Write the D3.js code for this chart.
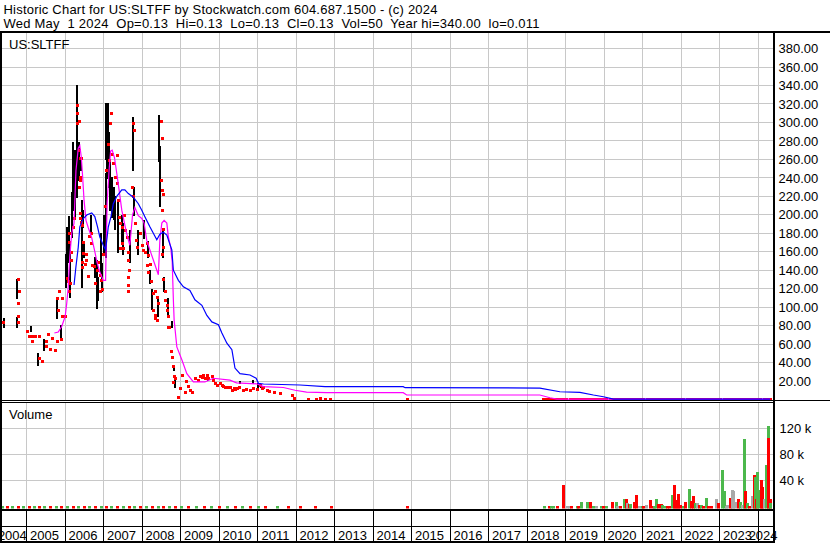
<!DOCTYPE html>
<html>
<head>
<meta charset="utf-8">
<script src="https://cdn.jsdelivr.net/npm/d3@7"></script>
<style>
  body { margin: 0; background: #fff; }
  text { font-family: "Liberation Sans", Arial, sans-serif; font-size: 13px; fill: #000; }
</style>
</head>
<body>
<svg id="chart" width="830" height="543"></svg>
<script>
const titleLines = [
  "Historic Chart for US:SLTFF by Stockwatch.com 604.687.1500 - (c) 2024",
  "Wed May  1 2024  Op=0.13  Hi=0.13  Lo=0.13  Cl=0.13  Vol=50  Year hi=340.00  lo=0.011"
];
const symbolLabel = "US:SLTFF";
const volumeLabel = "Volume";
const years = [2004, 2005, 2006, 2007, 2008, 2009, 2010, 2011, 2012, 2013, 2014,
  2015, 2016, 2017, 2018, 2019, 2020, 2021, 2022, 2023, 2024];
const priceTicks = [20, 40, 60, 80, 100, 120, 140, 160, 180, 200, 220, 240, 260, 280, 300, 320, 340, 360, 380];
const volumeTicks = [40, 80, 120];

// [decimal year, high, low]
const hiLoBars = [
  [2004.41, 88, 79], [2004.76, 130, 110], [2004.76, 89, 79], [2005.10, 80, 74],
  [2005.30, 50, 37], [2005.44, 66, 55], [2005.46, 64, 54], [2005.78, 110, 88],
  [2005.88, 81, 64], [2006.01, 158, 122], [2006.05, 187, 131], [2006.09, 199, 149],
  [2006.13, 169, 111], [2006.18, 225, 176], [2006.21, 279, 205], [2006.25, 270, 197],
  [2006.30, 340, 219], [2006.33, 279, 248], [2006.37, 279, 238], [2006.40, 262, 248],
  [2006.43, 216, 122], [2006.46, 205, 187], [2006.49, 169, 154], [2006.67, 200, 180],
  [2006.77, 154, 133], [2006.82, 151, 99], [2006.84, 133, 108], [2006.94, 180, 137],
  [2006.96, 148, 118], [2007.01, 200, 158], [2007.05, 245, 154], [2007.07, 321, 260],
  [2007.09, 300, 240], [2007.11, 321, 259], [2007.13, 290, 230], [2007.16, 259, 205],
  [2007.22, 241, 198], [2007.26, 230, 195], [2007.30, 220, 185], [2007.37, 215, 160],
  [2007.47, 200, 170], [2007.50, 191, 158], [2007.68, 183, 149], [2007.76, 306, 248],
  [2007.78, 230, 200], [2007.89, 183, 158], [2008.06, 194, 175], [2008.14, 172, 154],
  [2008.20, 140, 126], [2008.26, 120, 98], [2008.40, 110, 90], [2008.44, 308, 258],
  [2008.45, 275, 210], [2008.46, 262, 250], [2008.54, 183, 154], [2008.57, 133, 118],
  [2008.67, 110, 90], [2008.77, 85, 78], [2008.82, 37, 32], [2008.85, 25, 14],
  [2009.72, 25, 21], [2010.54, 20, 18], [2010.87, 21, 18], [2011.02, 18, 14], [2011.08, 17, 14]
];

// [decimal year, close]
const closeDots = [
  [2004.38, 84], [2004.78, 130], [2004.80, 118], [2004.78, 105], [2004.78, 90], [2004.78, 84],
  [2005.02, 74], [2005.05, 69], [2005.15, 69], [2005.21, 69], [2005.32, 69], [2005.15, 63],
  [2005.33, 45], [2005.41, 42], [2005.50, 63], [2005.50, 58], [2005.61, 55], [2005.73, 54],
  [2005.55, 71], [2005.66, 67], [2005.78, 63], [2005.83, 118], [2005.78, 110], [2005.82, 97],
  [2005.92, 110], [2005.91, 90], [2006.00, 90], [2005.89, 65], [2006.05, 132], [2006.08, 128],
  [2006.12, 126], [2006.09, 118], [2006.09, 170], [2006.11, 180], [2006.16, 160], [2006.14, 151],
  [2006.21, 187], [2006.23, 196], [2006.32, 319], [2006.32, 310], [2006.31, 299], [2006.36, 302],
  [2006.36, 270], [2006.38, 261], [2006.41, 261], [2006.38, 241], [2006.38, 238], [2006.37, 230],
  [2006.38, 202], [2006.38, 196], [2006.41, 192], [2006.44, 189], [2006.47, 170], [2006.45, 159],
  [2006.44, 149], [2006.54, 151], [2006.51, 147], [2006.44, 144], [2006.59, 134], [2006.63, 177],
  [2006.54, 158], [2006.66, 180], [2006.68, 169], [2006.70, 146], [2006.74, 145], [2006.85, 149],
  [2006.82, 140], [2006.90, 135], [2006.93, 129], [2006.96, 120], [2006.78, 126], [2006.90, 118],
  [2006.99, 158], [2007.03, 209], [2007.05, 248], [2007.12, 277], [2007.16, 299], [2007.19, 310],
  [2007.14, 259], [2007.21, 266], [2007.25, 256], [2007.34, 265], [2007.29, 241], [2007.34, 234],
  [2007.38, 216], [2007.40, 198], [2007.42, 191], [2007.48, 187], [2007.54, 200], [2007.55, 183],
  [2007.60, 176], [2007.47, 169], [2007.51, 164], [2007.42, 164], [2007.64, 160], [2007.62, 151],
  [2007.67, 140], [2007.62, 133], [2007.64, 124], [2007.64, 118], [2007.77, 299], [2007.79, 292],
  [2007.73, 230], [2007.77, 220], [2007.81, 191], [2007.83, 173], [2007.86, 165], [2007.94, 180],
  [2007.99, 167], [2008.03, 162], [2008.12, 169], [2008.07, 160], [2008.16, 156], [2008.12, 146],
  [2008.16, 138], [2008.23, 128], [2008.33, 118], [2008.38, 111], [2008.40, 104], [2008.29, 97],
  [2008.33, 88], [2008.49, 302], [2008.51, 283], [2008.49, 238], [2008.51, 227], [2008.55, 222],
  [2008.52, 205], [2008.55, 185], [2008.55, 165], [2008.52, 158], [2008.55, 131], [2008.59, 118],
  [2008.59, 108], [2008.64, 97], [2008.68, 90], [2008.70, 79], [2008.20, 147], [2008.29, 115],
  [2008.33, 91], [2008.38, 86], [2008.64, 102], [2008.68, 79], [2008.74, 52], [2008.77, 46],
  [2008.79, 36], [2008.82, 25], [2008.85, 23], [2008.81, 19], [2009.03, 27], [2008.98, 12],
  [2008.94, 3], [2009.11, 8], [2009.15, 20], [2009.20, 15], [2009.24, 10], [2009.29, 8],
  [2009.37, 23], [2009.45, 21], [2009.50, 25], [2009.55, 24], [2009.59, 27], [2009.63, 23],
  [2009.68, 26], [2009.72, 23], [2009.81, 25], [2009.85, 21], [2009.90, 18], [2009.94, 16],
  [2010.02, 18], [2010.07, 16], [2010.10, 15], [2010.16, 14], [2010.20, 13], [2010.28, 14],
  [2010.33, 10], [2010.38, 12], [2010.41, 11], [2010.47, 12], [2010.52, 13], [2010.63, 10],
  [2010.70, 11], [2010.80, 10], [2010.88, 12], [2010.97, 11], [2011.06, 16], [2011.10, 12],
  [2011.15, 14], [2011.23, 10], [2011.30, 9], [2011.42, 8], [2011.58, 7], [2011.88, 5],
  [2011.94, 2], [2012.32, 1], [2012.52, 1], [2012.62, 2], [2012.75, 0.3], [2012.88, 0.3],
  [2014.87, 0.3], [2018.40, 0.2], [2018.48, 0.2], [2018.55, 0.2], [2018.62, 0.1], [2018.70, 0.1],
  [2018.78, 0.1], [2018.86, 0.1], [2018.94, 0.1], [2019.02, 0.1], [2019.10, 0.1], [2019.18, 0.1],
  [2019.26, 0.1], [2019.34, 0.1], [2019.42, 0.1], [2019.50, 0.1], [2019.58, 0.1], [2019.66, 0.1],
  [2019.74, 0.1], [2019.82, 0.1], [2019.90, 0.1], [2019.98, 0.1], [2020.06, 0.1], [2020.14, 0.1],
  [2020.22, 0.1], [2020.30, 0.1], [2020.38, 0.1], [2020.46, 0.1], [2020.54, 0.1], [2020.62, 0.1],
  [2020.70, 0.1], [2020.78, 0.1], [2020.86, 0.1], [2020.94, 0.1], [2021.02, 0.1], [2021.10, 0.1],
  [2021.18, 0.1], [2021.26, 0.1], [2021.34, 0.1], [2021.42, 0.1], [2021.50, 0.1], [2021.58, 0.1],
  [2021.66, 0.1], [2021.74, 0.1], [2021.82, 0.1], [2021.90, 0.1], [2021.98, 0.1], [2022.06, 0.1],
  [2022.14, 0.1], [2022.22, 0.1], [2022.30, 0.1], [2022.38, 0.1], [2022.46, 0.1], [2022.54, 0.1],
  [2022.62, 0.1], [2022.70, 0.1], [2022.78, 0.1], [2022.86, 0.1], [2022.94, 0.1], [2023.02, 0.1],
  [2023.10, 0.1], [2023.18, 0.1], [2023.26, 0.1], [2023.34, 0.1], [2023.42, 0.1], [2023.50, 0.1],
  [2023.58, 0.1], [2023.66, 0.1], [2023.74, 0.1], [2023.82, 0.1], [2023.90, 0.1], [2023.98, 0.1],
  [2024.06, 0.1], [2024.14, 0.1], [2024.22, 0.1], [2024.30, 0.1]
];

// short moving average (magenta)
const shortAvg = [
  [2005.72, 72], [2005.82, 73], [2005.91, 79], [2006.00, 90], [2006.04, 104], [2006.08, 122],
  [2006.12, 155], [2006.17, 180], [2006.23, 191], [2006.28, 248], [2006.34, 272], [2006.38, 275],
  [2006.42, 262], [2006.45, 243], [2006.49, 216], [2006.54, 194], [2006.60, 186], [2006.69, 175],
  [2006.77, 160], [2006.83, 148], [2006.90, 138], [2006.99, 129], [2007.05, 129], [2007.06, 155],
  [2007.09, 213], [2007.14, 248], [2007.18, 269], [2007.22, 270], [2007.28, 262], [2007.34, 245],
  [2007.41, 224], [2007.47, 205], [2007.54, 191], [2007.59, 181], [2007.64, 173], [2007.68, 167],
  [2007.75, 200], [2007.81, 208], [2007.90, 199], [2007.99, 196], [2008.05, 191], [2008.12, 172],
  [2008.20, 162], [2008.29, 151], [2008.38, 140], [2008.42, 135], [2008.46, 173], [2008.51, 191],
  [2008.57, 194], [2008.64, 191], [2008.68, 176], [2008.74, 165], [2008.78, 149], [2008.81, 108],
  [2008.83, 86], [2008.90, 57], [2009.03, 43], [2009.16, 28], [2009.33, 19], [2009.63, 19],
  [2009.85, 23], [2010.28, 21], [2010.45, 18], [2010.97, 17], [2011.15, 14], [2011.67, 13],
  [2011.97, 10], [2012.27, 8], [2012.79, 7.4], [2014.78, 7.4], [2014.87, 4.9], [2018.33, 4.9],
  [2018.59, 1.9], [2018.77, 0.5], [2024.31, 0.3]
];

// long moving average (blue)
const longAvg = [
  [2006.23, 124], [2006.28, 144], [2006.34, 165], [2006.38, 187], [2006.47, 196], [2006.57, 200],
  [2006.69, 202], [2006.77, 198], [2006.84, 187], [2006.90, 176], [2006.99, 167], [2007.05, 162],
  [2007.09, 176], [2007.12, 187], [2007.19, 198], [2007.25, 212], [2007.34, 220], [2007.47, 227],
  [2007.55, 227], [2007.64, 223], [2007.77, 219], [2007.90, 212], [2007.99, 205], [2008.07, 198],
  [2008.20, 187], [2008.29, 180], [2008.38, 173], [2008.46, 179], [2008.55, 181], [2008.64, 178],
  [2008.72, 168], [2008.77, 162], [2008.81, 140], [2008.94, 129], [2009.07, 122], [2009.24, 118],
  [2009.37, 108], [2009.55, 102], [2009.68, 91], [2009.81, 84], [2009.98, 81], [2010.07, 72],
  [2010.20, 61], [2010.33, 54], [2010.41, 34], [2010.54, 28], [2010.80, 26.5], [2010.96, 23],
  [2011.02, 17.5], [2011.15, 16.8], [2012.10, 15.7], [2012.75, 13.9], [2014.78, 13.9],
  [2014.83, 12.8], [2018.33, 12.4], [2018.85, 8.4], [2019.37, 7.8], [2019.72, 4.9],
  [2019.98, 3], [2020.24, 0.5], [2024.31, 0.5]
];

// [decimal year, volume in thousands, 'g' up / 'r' down / 'n' unchanged]
const volumeBars = [
  [2004.35, 0.4, 'g'], [2004.50, 0.6, 'r'], [2004.62, 0.3, 'g'], [2004.78, 0.8, 'r'], [2004.90, 0.5, 'g'],
  [2005.05, 0.6, 'r'], [2005.20, 0.4, 'g'], [2005.32, 0.7, 'r'], [2005.45, 0.5, 'g'], [2005.60, 0.6, 'r'],
  [2005.75, 0.5, 'g'], [2005.90, 0.8, 'r'], [2006.05, 0.6, 'g'], [2006.20, 0.9, 'r'], [2006.33, 0.7, 'g'],
  [2006.48, 0.6, 'r'], [2006.62, 0.8, 'g'], [2006.78, 0.5, 'r'], [2006.92, 0.7, 'g'], [2007.05, 0.9, 'r'],
  [2007.20, 0.6, 'g'], [2007.35, 0.7, 'r'], [2007.50, 0.5, 'g'], [2007.65, 0.8, 'r'], [2007.80, 0.6, 'g'],
  [2007.95, 0.7, 'r'], [2008.10, 0.6, 'g'], [2008.25, 0.8, 'r'], [2008.40, 0.5, 'g'], [2008.55, 0.9, 'r'],
  [2008.70, 0.6, 'g'], [2008.85, 0.5, 'r'], [2009.00, 0.4, 'g'], [2009.20, 0.5, 'r'], [2009.40, 0.4, 'g'],
  [2009.60, 0.6, 'r'], [2009.80, 0.4, 'g'], [2010.00, 0.5, 'r'], [2010.20, 0.4, 'g'], [2010.40, 0.5, 'r'],
  [2010.60, 0.4, 'g'], [2010.80, 0.5, 'r'], [2011.00, 0.6, 'g'], [2011.20, 0.4, 'r'], [2011.50, 0.3, 'g'],
  [2011.80, 0.4, 'r'], [2012.10, 0.3, 'r'], [2012.50, 0.4, 'r'], [2012.90, 0.3, 'r'], [2014.87, 0.3, 'r'],
  [2018.44, 0.5, 'g'], [2018.57, 0.3, 'r'], [2018.62, 1, 'g'], [2018.66, 1, 'g'], [2018.77, 0.3, 'r'],
  [2018.93, 33, 'r'], [2019.03, 0.3, 'n'], [2019.08, 0.3, 'n'], [2019.14, 1, 'r'], [2019.29, 1, 'g'],
  [2019.33, 0.5, 'r'], [2019.41, 6.6, 'g'], [2019.55, 6.6, 'g'], [2019.63, 6.6, 'r'], [2019.71, 0.8, 'g'],
  [2019.79, 0.3, 'n'], [2019.92, 0.8, 'g'], [2019.97, 0.8, 'r'], [2020.04, 0.8, 'g'], [2020.20, 6.6, 'r'],
  [2020.30, 6.6, 'g'], [2020.33, 0.8, 'n'], [2020.41, 0.8, 'r'], [2020.52, 11.2, 'g'], [2020.56, 11.2, 'r'],
  [2020.59, 6, 'n'], [2020.65, 4, 'r'], [2020.67, 4.5, 'g'], [2020.78, 6.6, 'r'], [2020.83, 17.4, 'r'],
  [2020.91, 0.3, 'n'], [2020.98, 1, 'g'], [2021.02, 0.8, 'r'], [2021.08, 3, 'n'], [2021.19, 9.7, 'r'],
  [2021.26, 1.2, 'r'], [2021.30, 1.5, 'g'], [2021.35, 12.3, 'g'], [2021.40, 4.5, 'r'], [2021.48, 4, 'r'],
  [2021.51, 3, 'g'], [2021.58, 1.5, 'g'], [2021.64, 1.5, 'r'], [2021.69, 1.5, 'r'], [2021.77, 17.4, 'g'],
  [2021.81, 33, 'r'], [2021.84, 10, 'r'], [2021.88, 10, 'r'], [2021.91, 19, 'r'], [2021.98, 3, 'r'],
  [2022.04, 1, 'g'], [2022.09, 6.6, 'r'], [2022.20, 26.6, 'g'], [2022.26, 8, 'r'], [2022.30, 16, 'r'],
  [2022.36, 5, 'g'], [2022.41, 6, 'n'], [2022.46, 2, 'r'], [2022.52, 2.5, 'g'], [2022.57, 1, 'r'],
  [2022.65, 12.8, 'g'], [2022.70, 0.3, 'r'], [2022.78, 0.3, 'r'], [2022.90, 11.3, 'n'], [2022.96, 6, 'r'],
  [2023.07, 56, 'g'], [2023.12, 24, 'g'], [2023.16, 0.8, 'n'], [2023.20, 2, 'n'], [2023.26, 13.5, 'r'],
  [2023.32, 25.4, 'n'], [2023.35, 24, 'n'], [2023.39, 7, 'n'], [2023.48, 12.3, 'r'], [2023.53, 6.6, 'g'],
  [2023.58, 2, 'n'], [2023.63, 103.5, 'g'], [2023.67, 24, 'r'], [2023.71, 5, 'g'], [2023.75, 0.5, 'r'],
  [2023.84, 16, 'n'], [2023.88, 24, 'n'], [2023.90, 48, 'r'], [2023.92, 46, 'g'], [2023.95, 11, 'r'],
  [2023.98, 53, 'g'], [2024.03, 26, 'g'], [2024.08, 40, 'r'], [2024.10, 30, 'r'], [2024.14, 11, 'n'],
  [2024.20, 63.5, 'g'], [2024.25, 123.5, 'g'], [2024.25, 104.6, 'r'], [2024.30, 11, 'r'], [2024.32, 6, 'g']
];

const volColor = { g: "#4cb84c", r: "#ff0000", n: "#a8a8a8" };
const gridColor = "#c8c8c8";
const titleWidths = [434, 536];

const svg = d3.select("#chart");
const axisX = 773.5;

const x = d3.scaleLinear().domain([2004.333, 2024.333]).range([1, 771]);
const y = d3.scaleLinear().domain([0, 399]).range([399.5, 31]);
const yVol = d3.scaleLinear().domain([0, 120]).range([506.6, 428.2]);
const px = v => Math.floor(v) + 0.5;

// clips
const defs = svg.append("defs");
defs.append("clipPath").attr("id", "clipPrice")
  .append("rect").attr("x", 2).attr("y", 32).attr("width", 771).attr("height", 368);
defs.append("clipPath").attr("id", "clipVol")
  .append("rect").attr("x", 2).attr("y", 403).attr("width", 771).attr("height", 105.5);

// title - spread letters so each line spans the same width as the original
svg.append("g").selectAll("text").data(titleLines).join("text")
  .attr("x", 3.5).attr("y", (d, i) => 13.5 + i * 14.5)
  .style("white-space", "pre")
  .text(d => d)
  .each(function (d, i) {
    const natural = this.getComputedTextLength();
    const extra = (titleWidths[i] - natural) / (d.length - 1);
    d3.select(this).style("letter-spacing", extra + "px");
  });

// gridlines
const grid = svg.append("g").attr("stroke", gridColor).attr("stroke-width", 1).attr("shape-rendering", "crispEdges");
grid.selectAll("line.v1").data(years.slice(1)).join("line").attr("class", "v1")
  .attr("x1", d => px(x(d))).attr("x2", d => px(x(d))).attr("y1", 32).attr("y2", 400);
grid.selectAll("line.v2").data(years.slice(1)).join("line").attr("class", "v2")
  .attr("x1", d => px(x(d))).attr("x2", d => px(x(d))).attr("y1", 403).attr("y2", 509);
grid.selectAll("line.h1").data(priceTicks).join("line").attr("class", "h1")
  .attr("x1", 2).attr("x2", axisX).attr("y1", d => px(y(d))).attr("y2", d => px(y(d)));
grid.selectAll("line.h2").data(volumeTicks).join("line").attr("class", "h2")
  .attr("x1", 2).attr("x2", axisX).attr("y1", d => px(yVol(d))).attr("y2", d => px(yVol(d)));

// price panel
const price = svg.append("g").attr("clip-path", "url(#clipPrice)");
price.append("g").attr("fill", "#000").attr("shape-rendering", "crispEdges")
  .selectAll("rect").data(hiLoBars).join("rect")
  .attr("x", d => Math.round(x(d[0])) - 1).attr("width", 2)
  .attr("y", d => Math.round(y(d[1]))).attr("height", d => Math.round(y(d[2])) - Math.round(y(d[1])) + 1);
price.append("g").attr("fill", "#ff0000").attr("shape-rendering", "crispEdges")
  .selectAll("rect").data(closeDots).join("rect")
  .attr("x", d => Math.round(x(d[0])) - 1).attr("y", d => Math.round(y(d[1])) - 1)
  .attr("width", 3).attr("height", 3);
const line = d3.line().x(d => x(d[0])).y(d => y(d[1]));
price.append("path").datum(shortAvg).attr("d", line)
  .attr("fill", "none").attr("stroke", "#ff00ff").attr("stroke-width", 1.2);
price.append("path").datum(longAvg).attr("d", line)
  .attr("fill", "none").attr("stroke", "#0000ff").attr("stroke-width", 1.2);

svg.append("text").attr("x", 9).attr("y", 49).text(symbolLabel);

// volume panel
const vol = svg.append("g").attr("clip-path", "url(#clipVol)").attr("shape-rendering", "crispEdges");
vol.selectAll("rect").data(volumeBars).join("rect")
  .attr("x", d => Math.round(x(d[0])) - 1).attr("width", 2.5)
  .attr("y", d => yVol(d[1])).attr("height", d => 508.5 - yVol(d[1]))
  .attr("fill", d => volColor[d[2]]);
svg.append("text").attr("x", 9).attr("y", 419).text(volumeLabel);

// frame lines
const frame = svg.append("g").attr("stroke", "#000").attr("shape-rendering", "crispEdges");
frame.append("line").attr("x1", 0).attr("x2", 830).attr("y1", 31.5).attr("y2", 31.5).attr("stroke-width", 2);
frame.append("line").attr("x1", 1).attr("x2", 1).attr("y1", 31).attr("y2", 543).attr("stroke-width", 2);
frame.append("line").attr("x1", axisX).attr("x2", axisX).attr("y1", 31).attr("y2", 543).attr("stroke-width", 2);
frame.append("line").attr("x1", 0).attr("x2", 830).attr("y1", 400.5).attr("y2", 400.5).attr("stroke-width", 1);
frame.append("line").attr("x1", 0).attr("x2", axisX).attr("y1", 402.5).attr("y2", 402.5).attr("stroke-width", 1);
frame.append("line").attr("x1", 0).attr("x2", axisX).attr("y1", 509.5).attr("y2", 509.5).attr("stroke-width", 2);
frame.append("line").attr("x1", 0).attr("x2", axisX).attr("y1", 526.5).attr("y2", 526.5).attr("stroke-width", 1.5);
frame.append("line").attr("x1", 0).attr("x2", axisX).attr("y1", 541.5).attr("y2", 541.5).attr("stroke-width", 2);
frame.selectAll("line.yd").data(years.slice(1)).join("line").attr("class", "yd")
  .attr("x1", d => px(x(d))).attr("x2", d => px(x(d))).attr("y1", 510).attr("y2", 541)
  .attr("stroke-width", 1);

// year labels, centered in each visible year cell
const [x0, x1] = x.range();
svg.append("g").selectAll("text").data(years).join("text")
  .attr("x", d => (Math.max(x(d), x0) + Math.min(x(d + 1), x1)) / 2 - 1.5)
  .attr("y", 539.5).attr("text-anchor", "middle")
  .text(d => d);

// right axes
const priceAxis = svg.append("g").attr("transform", `translate(${axisX},0)`)
  .call(d3.axisRight(y).tickValues(priceTicks).tickFormat(d3.format(".2f")).tickSize(0).tickPadding(5));
const volAxis = svg.append("g").attr("transform", `translate(${axisX},0)`)
  .call(d3.axisRight(yVol).tickValues(volumeTicks).tickFormat(d => d + " k").tickSize(0).tickPadding(6));
[priceAxis, volAxis].forEach(g => {
  g.select(".domain").remove();
  g.attr("font-family", null).attr("font-size", null);
  g.selectAll("text").attr("fill", null);
});
</script>
</body>
</html>
